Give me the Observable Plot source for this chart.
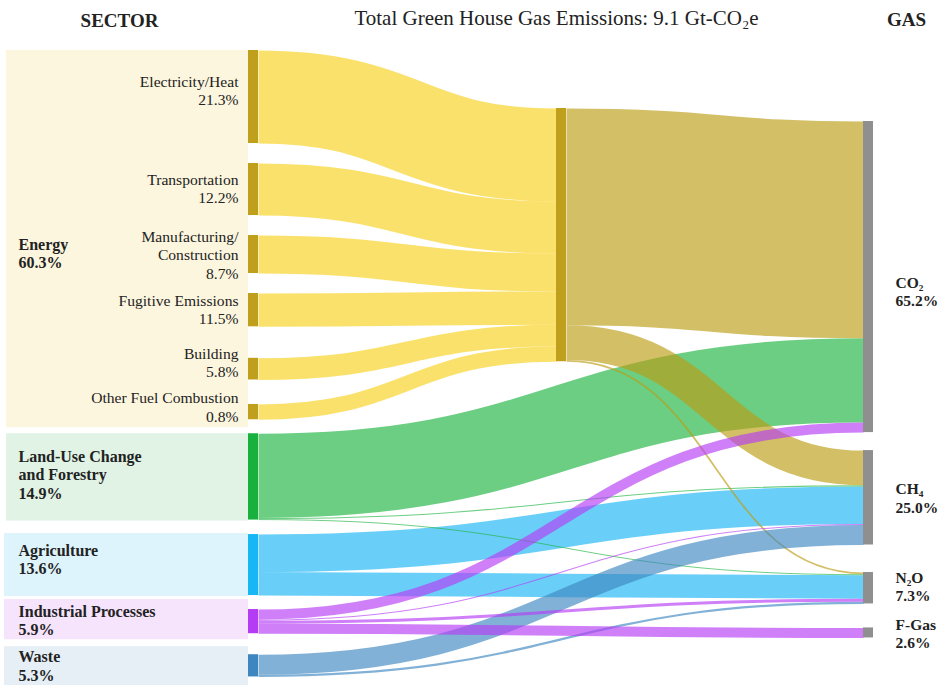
<!DOCTYPE html>
<html>
<head>
<meta charset="utf-8">
<script src="https://cdn.jsdelivr.net/npm/d3@7"></script>
<script src="https://cdn.jsdelivr.net/npm/@observablehq/plot@0.6"></script>
<style>
  body { margin: 0; background: #fff; }
  #chart svg, #chart svg text { font-family: "Liberation Serif", "DejaVu Serif", serif !important; }
</style>
</head>
<body>
<div id="chart"></div>
<script>
// ---------------- DATA ----------------
const sectors = ["Electricity/Heat", "Transportation", "Manufacturing/Construction", "Fugitive Emissions",
  "Building", "Other Fuel Combustion", "Land-Use Change and Forestry", "Agriculture",
  "Industrial Processes", "Waste"];
const middleNode = "Energy";
const gases = ["CO₂", "CH₄", "N₂O", "F-Gas"];

const subsectorLabelText = ["Electricity/Heat\n21.3%", "Transportation\n12.2%", "Manufacturing/\nConstruction\n8.7%",
  "Fugitive Emissions\n11.5%", "Building\n5.8%", "Other Fuel Combustion\n0.8%"];
const groupLabelText = ["Energy\n60.3%", "Land-Use Change\nand Forestry\n14.9%", "Agriculture\n13.6%",
  "Industrial Processes\n5.9%", "Waste\n5.3%"];
const gasLabelText = ["CO₂\n65.2%", "CH₄\n25.0%", "N₂O\n7.3%", "F-Gas\n2.6%"];
const titleText = "Total Green House Gas Emissions: 9.1 Gt-CO₂e";
const leftHeader = "SECTOR";
const rightHeader = "GAS";

// links (Mt CO2e), listed in drawing order
const linkSource = ["Agriculture", "Agriculture",
  "Land-Use Change and Forestry", "Land-Use Change and Forestry", "Land-Use Change and Forestry",
  "Electricity/Heat", "Transportation", "Manufacturing/Construction", "Fugitive Emissions", "Building", "Other Fuel Combustion",
  "Energy", "Energy", "Energy",
  "Waste", "Waste",
  "Industrial Processes", "Industrial Processes", "Industrial Processes", "Industrial Processes"];
const linkTarget = ["CH₄", "N₂O",
  "CO₂", "CH₄", "N₂O",
  "Energy", "Energy", "Energy", "Energy", "Energy", "Energy",
  "CO₂", "CH₄", "N₂O",
  "CH₄", "N₂O",
  "CO₂", "CH₄", "N₂O", "F-Gas"];
const linkValue = [761, 477,
  1710, 22, 20,
  1888, 1056, 771, 676, 440, 310,
  4400, 706, 35,
  406, 45,
  205, 22, 61, 203];

// ---------------- STYLE / LAYOUT ----------------
const W = 938, H = 685;
const MT_PER_PX = 20.3;
const u = px => px * MT_PER_PX;
const FONT = "'Liberation Serif', 'DejaVu Serif', serif";
const colX = [248, 556, 863];
const nodeW = 10;
const colTop = [50, 108, 121];
const colGaps = [[20, 20, 20, 31.5, 24.5, 14, 14.5, 14, 21], [], [18, 27.5, 24]];
const nodeColors = {
  "Electricity/Heat": "#bf9f1c", "Transportation": "#bf9f1c", "Manufacturing/Construction": "#bf9f1c",
  "Fugitive Emissions": "#bf9f1c", "Building": "#bf9f1c", "Other Fuel Combustion": "#bf9f1c",
  "Land-Use Change and Forestry": "#19b13d", "Agriculture": "#19b6f6", "Industrial Processes": "#b43cf5",
  "Waste": "#3d86c0", "Energy": "#bf9f1c", "CO₂": "#8f8f8f", "CH₄": "#8f8f8f", "N₂O": "#8f8f8f", "F-Gas": "#8f8f8f"
};
const linkColors = {
  "Electricity/Heat": "#f8d11c", "Transportation": "#f8d11c", "Manufacturing/Construction": "#f8d11c",
  "Fugitive Emissions": "#f8d11c", "Building": "#f8d11c", "Other Fuel Combustion": "#f8d11c",
  "Land-Use Change and Forestry": "#1db33f", "Agriculture": "#1ab6f5", "Industrial Processes": "#b53cf5",
  "Waste": "#3e87c0", "Energy": "#bb9c14"
};
const subLabelDy = [-7, -1.5, 0, -1, -7, -5.5];
const groupMembers = [[0, 1, 2, 3, 4, 5], [6], [7], [8], [9]];
const groupBoxPad = [[0, 8], [0, 1], [1, 1], [10, 6], [8, 9]];
const groupBoxX = [[6, 248], [6, 248], [4, 248], [4, 248], [4, 248]];
const groupBoxColor = ["#fdf6de", "#e0f3e5", "#def4fc", "#f6e4fd", "#e5eff5"];
const groupLabelDy = [14, -2.5, -6, -1.5, 0];
const gasLabelDy = [14, 0, -2, 0];
const textColor = "#222";

// ---------------- LAYOUT COMPUTATION ----------------
const nodeNames = [...sectors, middleNode, ...gases];
const nodes = nodeNames.map((name, i) => ({
  name, col: i < sectors.length ? 0 : (name === middleNode ? 1 : 2), inV: 0, outV: 0
}));
const byName = new Map(nodes.map(n => [n.name, n]));
const links = linkValue.map((v, i) => ({
  source: byName.get(linkSource[i]), target: byName.get(linkTarget[i]), value: v
}));
links.forEach(l => { l.source.outV += l.value; l.target.inV += l.value; });
nodes.forEach(n => n.value = Math.max(n.inV, n.outV));
[0, 1, 2].forEach(c => {
  let y = u(colTop[c]);
  nodes.filter(n => n.col === c).forEach((n, j) => {
    n.y0 = y; n.y1 = y + n.value; y = n.y1 + u(colGaps[c][j] || 0);
  });
});
nodes.forEach(n => {
  let y = n.y0;
  links.filter(l => l.source === n).sort((a, b) => a.target.y0 - b.target.y0)
    .forEach(l => { l.sy = y + l.value / 2; y += l.value; });
  y = n.y0;
  links.filter(l => l.target === n).sort((a, b) => a.source.y0 - b.source.y0)
    .forEach(l => { l.ty = y + l.value / 2; y += l.value; });
});
links.forEach(l => {
  l.x1 = colX[l.source.col] + nodeW;
  l.x2 = colX[l.target.col];
  l.color = linkColors[l.source.name];
});

const boxes = groupMembers.map((m, g) => ({
  x1: groupBoxX[g][0], x2: groupBoxX[g][1],
  y1: nodes[m[0]].y0 - u(groupBoxPad[g][0]),
  y2: nodes[m[m.length - 1]].y1 + u(groupBoxPad[g][1]),
  fill: groupBoxColor[g]
}));
const groupLabels = groupMembers.map((m, g) => ({
  text: groupLabelText[g],
  y: g === 0 ? (boxes[0].y1 + boxes[0].y2) / 2 + u(groupLabelDy[g])
             : (nodes[m[0]].y0 + nodes[m[0]].y1) / 2 + u(groupLabelDy[g])
}));
const subLabels = subsectorLabelText.map((t, i) => ({
  text: t, y: (nodes[i].y0 + nodes[i].y1) / 2 + u(subLabelDy[i])
}));
const gasNodesArr = nodes.filter(n => n.col === 2);
const gasLabels = gasLabelText.map((t, i) => ({
  text: t, y: (gasNodesArr[i].y0 + gasNodesArr[i].y1) / 2 + u(gasLabelDy[i])
}));

// ---------------- PLOT ----------------
const chart = Plot.plot({
  width: W, height: H,
  marginTop: 0, marginBottom: 0, marginLeft: 0, marginRight: 0,
  x: {domain: [0, W], range: [0, W], axis: null},
  y: {domain: [0, u(H)], range: [0, H], axis: null},
  color: {type: "identity"},
  style: {fontFamily: FONT, background: "#fff", color: textColor},
  marks: [
    Plot.rect(boxes, {x1: "x1", x2: "x2", y1: "y1", y2: "y2", fill: "fill"}),
    Plot.link(links, {
      x1: "x1", y1: "sy", x2: "x2", y2: "ty", curve: "bump-x",
      stroke: "color", strokeOpacity: 0.65, strokeWidth: d => d.value / MT_PER_PX
    }),
    Plot.rect(nodes, {
      x1: d => colX[d.col], x2: d => colX[d.col] + nodeW, y1: "y0", y2: "y1",
      fill: d => nodeColors[d.name]
    }),
    Plot.text(subLabels, {
      x: colX[0] - 10, y: "y", text: "text", textAnchor: "end", lineAnchor: "middle",
      fontFamily: FONT, fontSize: 15.6, lineHeight: 1.18, fill: textColor
    }),
    Plot.text(groupLabels, {
      x: 18, y: "y", text: "text", textAnchor: "start", lineAnchor: "middle",
      fontFamily: FONT, fontSize: 16, fontWeight: "bold", lineHeight: 1.17, fill: textColor
    }),
    Plot.text(gasLabels, {
      x: colX[2] + nodeW + 22, y: "y", text: "text", textAnchor: "start", lineAnchor: "middle",
      fontFamily: FONT, fontSize: 15.5, fontWeight: "bold", lineHeight: 1.2, fill: textColor
    }),
    Plot.text([titleText], {x: 556, y: u(18), text: d => d, fontFamily: FONT, fontSize: 21, fill: textColor, lineAnchor: "middle"}),
    Plot.text([leftHeader], {x: 119, y: u(20), text: d => d, fontFamily: FONT, fontSize: 19, fontWeight: "bold", fill: textColor, lineAnchor: "middle"}),
    Plot.text([rightHeader], {x: 906, y: u(19), text: d => d, fontFamily: FONT, fontSize: 19, fontWeight: "bold", fill: textColor, lineAnchor: "middle"})
  ]
});
document.getElementById("chart").appendChild(chart);
</script>
</body>
</html>
